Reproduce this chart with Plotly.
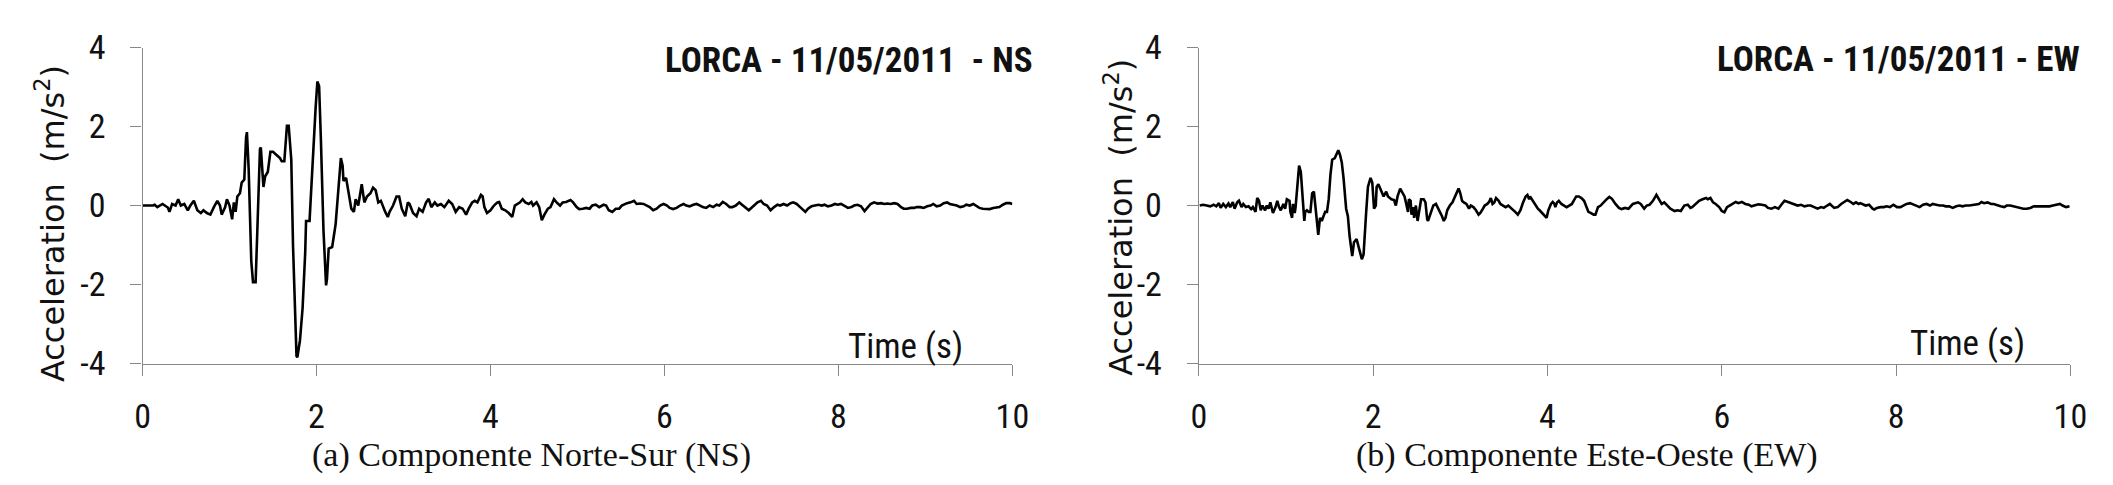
import plotly.graph_objects as go

# ---- NS component (left panel) ----
t_ns = [0.00,0.12,0.14,0.17,0.23,0.29,0.31,0.34,0.38,0.41,0.44,0.48,0.52,0.55,0.59,0.63,0.67,0.70,0.74,0.78,
        0.82,0.86,0.89,0.91,0.95,0.97,1.00,1.03,1.05,1.07,1.09,1.12,1.14,1.17,1.19,1.20,1.22,1.25,1.27,1.30,
        1.32,1.35,1.36,1.38,1.39,1.41,1.44,1.47,1.50,1.54,1.58,1.60,1.63,1.66,1.68,1.71,1.73,1.77,1.78,1.81,
        1.84,1.87,1.88,1.92,1.95,1.99,2.01,2.03,2.05,2.08,2.11,2.12,2.14,2.18,2.22,2.25,2.28,2.30,2.31,2.34,
        2.37,2.40,2.43,2.45,2.48,2.50,2.52,2.55,2.58,2.62,2.65,2.68,2.71,2.74,2.77,2.79,2.82,2.84,2.88,2.92,
        2.95,2.98,3.02,3.05,3.07,3.11,3.15,3.18,3.22,3.26,3.29,3.32,3.36,3.39,3.43,3.47,3.52,3.56,3.60,3.64,
        3.68,3.72,3.75,3.79,3.82,3.85,3.89,3.91,3.93,3.96,4.00,4.04,4.08,4.10,4.13,4.17,4.21,4.25,4.28,4.31,
        4.34,4.37,4.40,4.44,4.47,4.49,4.53,4.56,4.59,4.62,4.66,4.69,4.73,4.76,4.80,4.83,4.87,4.92,4.95,4.99,
        5.02,5.06,5.10,5.14,5.17,5.21,5.25,5.30,5.33,5.36,5.40,5.44,5.48,5.51,5.54,5.57,5.61,5.65,5.68,5.72,
        5.76,5.80,5.83,5.87,5.91,5.95,5.99,6.03,6.06,6.10,6.14,6.18,6.22,6.25,6.29,6.33,6.37,6.41,6.44,6.48,
        6.52,6.56,6.60,6.63,6.67,6.71,6.75,6.78,6.82,6.86,6.92,6.97,7.03,7.07,7.11,7.14,7.18,7.22,7.26,7.30,
        7.33,7.37,7.41,7.45,7.48,7.52,7.56,7.62,7.65,7.69,7.73,7.77,7.81,7.84,7.88,7.92,7.96,7.99,8.03,8.07,
        8.11,8.15,8.18,8.22,8.26,8.30,8.34,8.37,8.41,8.45,8.49,8.53,8.56,8.60,8.64,8.68,8.72,8.75,8.79,8.83,
        8.87,8.90,8.94,8.98,9.02,9.06,9.09,9.13,9.17,9.21,9.25,9.28,9.32,9.36,9.40,9.44,9.47,9.51,9.55,9.59,
        9.62,9.66,9.70,9.74,9.78,9.81,9.85,9.89,9.93,9.97,10.00]
a_ns = [0.00,0.00,0.02,-0.04,0.04,-0.05,-0.16,0.04,0.00,0.16,0.00,0.04,-0.12,0.00,0.12,-0.12,-0.19,-0.12,-0.19,-0.23,
        -0.04,0.12,0.00,-0.23,-0.04,0.16,0.00,-0.35,0.08,-0.16,0.23,0.31,0.58,0.66,1.71,1.86,0.93,-1.40,-1.94,-1.94,
        -0.62,1.43,1.47,0.70,0.47,0.74,0.85,1.36,1.36,1.28,1.20,1.12,1.12,2.02,2.02,1.16,-1.01,-3.81,-3.84,-3.41,
        -2.60,-1.20,-0.39,-0.39,0.93,2.48,3.14,3.02,1.71,-0.62,-2.02,-1.86,-1.09,-1.05,-0.47,0.31,1.20,1.01,0.62,0.70,
        0.31,-0.08,-0.16,0.16,0.00,0.31,0.54,0.08,0.23,0.31,0.45,0.39,0.08,0.12,-0.08,-0.16,-0.29,-0.16,0.00,0.23,
        0.23,-0.08,-0.27,0.08,0.04,-0.19,-0.27,-0.08,-0.16,0.08,0.17,-0.04,0.08,0.00,0.04,-0.04,0.12,0.04,-0.16,-0.04,
        -0.08,-0.23,-0.08,0.08,0.12,0.08,0.27,0.23,-0.04,-0.19,-0.12,0.00,0.08,0.09,-0.08,-0.12,-0.19,-0.29,0.00,0.04,
        0.08,0.16,0.08,0.04,0.09,0.00,0.08,-0.04,-0.37,-0.23,-0.08,-0.04,0.16,0.08,0.00,0.08,0.09,0.14,0.08,-0.04,
        -0.09,-0.08,-0.06,-0.08,0.00,0.02,-0.04,0.02,0.00,-0.12,-0.16,-0.08,-0.08,0.00,0.04,0.06,0.08,0.12,0.04,0.05,
        0.04,0.00,-0.04,-0.12,-0.08,0.00,0.04,0.00,-0.06,-0.09,-0.06,0.00,0.04,0.00,-0.02,0.02,0.04,0.00,-0.04,-0.06,
        0.00,-0.04,0.02,0.00,0.09,0.04,-0.04,-0.04,0.00,0.08,-0.04,-0.12,0.00,0.08,0.12,0.04,0.00,-0.12,-0.04,0.02,
        0.00,0.04,0.00,0.06,0.08,0.04,-0.04,-0.16,-0.08,-0.02,0.00,0.02,0.00,0.02,-0.02,0.00,0.04,0.02,0.04,0.00,
        -0.06,-0.04,0.00,0.02,-0.02,-0.14,-0.04,0.04,0.08,0.05,0.06,0.04,0.05,0.04,0.06,0.04,-0.04,-0.08,-0.08,-0.06,
        -0.06,-0.04,-0.04,-0.06,-0.02,0.00,0.04,-0.02,0.00,0.06,0.08,0.04,0.02,0.00,-0.04,-0.02,0.02,0.00,0.04,-0.02,
        -0.06,-0.08,-0.08,-0.09,-0.06,-0.05,-0.04,0.02,0.06,0.06,0.04]

# ---- EW component (right panel) ----
t_ew = [0.01,0.05,0.09,0.13,0.17,0.20,0.23,0.25,0.28,0.31,0.34,0.36,0.39,0.41,0.44,0.46,0.49,0.51,0.54,0.57,
        0.60,0.62,0.65,0.67,0.69,0.71,0.73,0.76,0.78,0.80,0.82,0.85,0.88,0.90,0.92,0.94,0.97,0.99,1.01,1.04,
        1.05,1.07,1.08,1.10,1.11,1.13,1.15,1.17,1.19,1.21,1.22,1.24,1.26,1.28,1.30,1.32,1.34,1.36,1.37,1.39,
        1.41,1.43,1.45,1.47,1.49,1.51,1.53,1.56,1.58,1.60,1.62,1.64,1.66,1.69,1.71,1.73,1.76,1.78,1.81,1.84,
        1.87,1.89,1.90,1.92,1.94,1.97,1.99,2.01,2.03,2.04,2.06,2.09,2.10,2.12,2.15,2.17,2.21,2.24,2.26,2.28,
        2.31,2.34,2.36,2.38,2.40,2.41,2.43,2.44,2.46,2.47,2.49,2.51,2.53,2.55,2.58,2.60,2.62,2.63,2.66,2.69,
        2.72,2.74,2.77,2.79,2.81,2.83,2.85,2.88,2.91,2.93,2.96,2.98,3.00,3.02,3.04,3.07,3.10,3.12,3.15,3.18,
        3.21,3.23,3.26,3.28,3.31,3.33,3.35,3.37,3.39,3.41,3.44,3.46,3.49,3.52,3.55,3.57,3.60,3.63,3.66,3.69,
        3.72,3.75,3.77,3.79,3.80,3.83,3.86,3.89,3.91,3.94,3.97,3.99,4.01,4.04,4.06,4.08,4.09,4.11,4.13,4.16,
        4.19,4.22,4.25,4.28,4.30,4.33,4.36,4.39,4.42,4.44,4.47,4.50,4.53,4.55,4.58,4.61,4.64,4.68,4.71,4.74,
        4.78,4.82,4.85,4.89,4.93,4.96,4.98,5.04,5.07,5.11,5.14,5.17,5.21,5.25,5.28,5.31,5.34,5.37,5.41,5.46,
        5.49,5.53,5.57,5.61,5.64,5.66,5.70,5.74,5.78,5.82,5.84,5.87,5.90,5.93,5.97,6.00,6.03,6.06,6.09,6.13,
        6.16,6.19,6.23,6.27,6.31,6.34,6.38,6.42,6.46,6.50,6.53,6.57,6.61,6.65,6.69,6.72,6.76,6.80,6.84,6.87,
        6.91,6.95,6.99,7.02,7.06,7.10,7.14,7.17,7.21,7.24,7.29,7.33,7.37,7.40,7.44,7.48,7.51,7.54,7.57,7.59,
        7.62,7.65,7.69,7.73,7.75,7.78,7.82,7.86,7.89,7.93,7.97,8.01,8.05,8.08,8.12,8.16,8.20,8.24,8.27,8.31,
        8.35,8.39,8.42,8.46,8.50,8.54,8.57,8.61,8.65,8.69,8.73,8.76,8.80,8.84,8.88,8.91,8.95,8.98,9.01,9.05,
        9.09,9.12,9.16,9.20,9.24,9.27,9.31,9.35,9.39,9.42,9.46,9.50,9.54,9.58,9.61,9.65,9.69,9.73,9.76,9.80,
        9.84,9.88,9.91,9.95,9.99]
a_ew = [0.00,0.02,0.00,-0.02,0.02,-0.02,0.06,-0.06,0.04,-0.04,0.05,-0.04,0.09,-0.08,0.08,0.12,-0.04,0.04,-0.04,-0.02,
        -0.09,-0.04,-0.16,0.19,0.12,-0.12,0.00,-0.12,0.00,-0.08,0.08,-0.19,-0.04,0.12,-0.04,-0.12,0.04,-0.08,0.16,0.12,
        -0.16,-0.31,0.04,-0.19,-0.04,0.47,1.01,0.85,0.16,-0.39,-0.16,-0.12,-0.16,-0.16,0.31,0.35,-0.08,-0.62,-0.74,-0.31,
        -0.39,-0.27,-0.16,-0.16,0.16,0.78,1.16,1.20,1.32,1.40,1.28,1.09,0.70,-0.08,-0.27,-0.78,-1.28,-0.93,-0.85,-1.09,
        -1.36,-1.24,-0.78,-0.16,0.47,0.70,0.58,-0.08,0.00,0.47,0.54,0.39,0.35,0.23,0.35,0.23,0.16,0.14,0.00,0.23,
        0.43,0.31,0.23,0.04,-0.16,0.16,0.12,-0.23,-0.04,-0.31,0.00,-0.39,-0.16,0.16,0.16,0.08,-0.35,-0.39,-0.19,0.00,
        0.04,-0.04,-0.16,-0.27,-0.39,-0.31,-0.12,0.00,0.08,0.19,0.31,0.43,0.31,0.12,0.08,0.04,-0.08,0.00,-0.04,-0.12,
        -0.23,-0.19,-0.08,0.00,0.04,0.09,0.19,0.04,0.08,0.19,0.12,0.04,0.00,-0.04,0.00,-0.04,-0.08,-0.16,-0.23,-0.12,
        0.08,0.23,0.27,0.16,0.23,0.12,0.04,-0.08,-0.12,-0.19,-0.27,-0.31,-0.12,0.04,0.09,0.04,-0.04,0.08,0.12,0.04,
        0.00,-0.04,0.00,0.04,0.12,0.23,0.23,0.19,0.12,0.00,-0.16,-0.19,-0.23,-0.23,-0.04,0.00,0.08,0.16,0.22,0.17,
        0.04,-0.06,-0.09,-0.06,-0.08,-0.02,0.04,0.08,0.04,-0.08,0.00,0.02,0.12,0.27,0.16,0.04,0.08,0.00,-0.08,-0.14,
        -0.12,-0.14,0.00,0.02,-0.06,-0.04,0.04,0.12,0.16,0.19,0.16,0.19,0.08,0.04,-0.04,-0.14,-0.17,-0.04,0.00,0.04,
        0.09,0.06,0.09,0.04,0.02,-0.02,0.00,0.03,0.02,0.00,-0.06,-0.08,-0.04,-0.08,0.04,0.12,0.09,0.06,0.02,0.00,
        0.02,-0.02,0.00,0.00,-0.04,-0.08,-0.04,-0.06,0.00,0.04,-0.06,-0.04,0.04,0.08,0.14,0.09,0.04,0.08,0.04,0.06,
        0.02,0.00,0.02,-0.08,-0.10,-0.06,-0.04,-0.04,-0.02,-0.04,0.02,-0.04,-0.04,0.00,0.04,0.06,0.02,-0.02,-0.04,0.02,
        0.04,0.00,0.04,0.02,0.00,0.00,-0.02,-0.02,-0.06,-0.02,0.00,-0.02,0.00,0.00,0.02,0.02,0.04,0.09,0.06,0.08,
        0.04,0.04,0.00,-0.02,-0.04,0.00,0.00,-0.02,-0.04,-0.06,-0.08,-0.08,-0.06,-0.02,-0.02,-0.02,-0.02,-0.02,-0.02,0.00,
        0.02,0.04,0.00,-0.04,-0.02]

x_ticks = [0, 2, 4, 6, 8, 10]
x_ticktext = ["0", "2", "4", "6", "8", "10"]
y_ticks = [-4, -2, 0, 2, 4]
y_ticktext = ["-4", "-2", "0", "2", "4"]

titles = ["LORCA - 11/05/2011 \u00a0- NS", "LORCA - 11/05/2011 - EW"]
captions = ["(a) Componente Norte-Sur (NS)", "(b) Componente Este-Oeste (EW)"]
y_title = "Acceleration \u00a0(m/s<sup>2</sup>)"
x_title = "Time (s)"

NARROW = "Liberation Sans Narrow, Arial Narrow, Roboto Condensed, Liberation Sans, sans-serif"
AX = "#878787"

fig = go.Figure()
fig.add_trace(go.Scatter(x=t_ns, y=a_ns, mode="lines", line=dict(color="black", width=2.6),
                         xaxis="x", yaxis="y", hoverinfo="skip"))
fig.add_trace(go.Scatter(x=t_ew, y=a_ew, mode="lines", line=dict(color="black", width=2.6),
                         xaxis="x2", yaxis="y2", hoverinfo="skip"))

def xax(dom, anchor):
    return dict(domain=dom, anchor=anchor, range=[0, 10], tickvals=x_ticks, ticktext=x_ticktext,
                showline=True, linecolor=AX, linewidth=1.3, ticks="outside", ticklen=11, tickcolor=AX,
                tickwidth=1.3, showgrid=False, zeroline=False, ticklabelstandoff=12,
                tickfont=dict(family=NARROW, size=34, color="#111"))

def yax(dom, anchor):
    return dict(domain=dom, anchor=anchor, range=[-4, 4], tickvals=y_ticks, ticktext=y_ticktext,
                showline=True, linecolor=AX, linewidth=1.3, ticks="outside", ticklen=11, tickcolor=AX,
                tickwidth=1.3, showgrid=False, zeroline=False, ticklabelstandoff=18,
                tickfont=dict(family=NARROW, size=34, color="#111"))

ydom = [0.2460, 0.9561]
fig.update_layout(
    width=2113, height=485, margin=dict(l=0, r=0, t=0, b=0),
    paper_bgcolor="white", plot_bgcolor="white", showlegend=False,
    xaxis=xax([0.0606, 0.4772], "y"), yaxis=yax(ydom, "x"),
    xaxis2=xax([0.5665, 0.9839], "y2"), yaxis2=yax(ydom, "x2"),
)

ann = []
ann.append(dict(x=0.4880, y=0.926, text="<b>%s</b>" % titles[0], xanchor="right", yanchor="middle"))
ann.append(dict(x=0.9896, y=0.930, text="<b>%s</b>" % titles[1], xanchor="right", yanchor="middle"))
for a in ann:
    a.update(xref="paper", yref="paper", showarrow=False, font=dict(family=NARROW, size=35, color="#111"))
extra = [
    dict(x=0.4545, y=0.2845, text=x_title, xanchor="right", yanchor="middle",
         font=dict(family=NARROW, size=35, color="#111")),
    dict(x=0.9631, y=0.2907, text=x_title, xanchor="right", yanchor="middle",
         font=dict(family=NARROW, size=35, color="#111")),
    dict(x=0.0166, y=0.5608, text=y_title, textangle=-90, xanchor="center", yanchor="middle",
         font=dict(family="DejaVu Sans, Verdana, sans-serif", size=32, color="#111")),
    dict(x=0.5282, y=0.5753, text=y_title, textangle=-90, xanchor="center", yanchor="middle",
         font=dict(family="DejaVu Sans, Verdana, sans-serif", size=32, color="#111")),
    dict(x=0.247, y=0.040, text=captions[0], xanchor="center", yanchor="middle",
         font=dict(family="Liberation Serif, Times New Roman, serif", size=34, color="#111")),
    dict(x=0.7525, y=0.040, text=captions[1], xanchor="center", yanchor="middle",
         font=dict(family="Liberation Serif, Times New Roman, serif", size=34, color="#111")),
]
for a in extra:
    a.update(xref="paper", yref="paper", showarrow=False)
fig.update_layout(annotations=ann + extra)

fig.write_html("out.html")
